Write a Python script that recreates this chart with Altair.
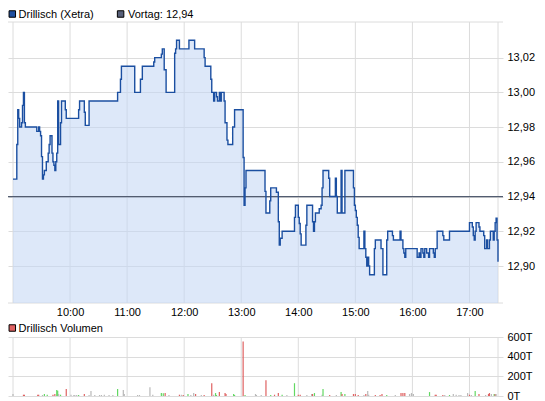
import altair as alt
import pandas as pd

# ---------------- data ----------------
session_day = "2011-01-03"
session_open = "09:00"
session_close = "17:30"

# Xetra price ticks: minutes after the 09:00 open, and price in EUR (step series)
price_minutes = [
    0, 4, 5, 6, 7, 9, 10, 11, 12, 13,
    25, 27, 28, 29, 30, 31, 32, 33, 35, 37,
    38, 39, 41, 42, 43, 44, 45, 46, 47, 48,
    50, 51, 55, 56, 69, 70, 75, 76, 80, 110,
    113, 114, 128, 134, 136, 148, 149, 156, 157, 159,
    161, 170, 171, 172, 175, 185, 191, 201, 202, 208,
    209, 211, 212, 214, 215, 217, 218, 219, 222, 223,
    225, 226, 231, 233, 242, 243, 244, 245, 265, 266,
    270, 271, 277, 279, 280, 281, 283, 296, 297, 300,
    301, 302, 303, 308, 309, 315, 316, 317, 318, 322,
    324, 325, 326, 332, 333, 339, 340, 341, 345, 346,
    349, 358, 359, 360, 361, 362, 363, 364, 369, 370,
    371, 372, 373, 374, 375, 380, 381, 387, 389, 393,
    394, 399, 400, 407, 408, 410, 411, 412, 413, 425,
    427, 428, 429, 431, 432, 433, 435, 437, 438, 442,
    443, 444, 446, 452, 453, 459, 480, 483, 484, 485,
    486, 487, 490, 491, 495, 496, 498, 499, 501, 502,
    505, 506, 507, 508, 509, 510,
]
price_values = [
    12.95, 12.97, 12.99, 12.985, 12.98, 12.9825, 12.9925, 13.00, 12.9825, 12.98,
    12.9775, 12.98, 12.9775, 12.975, 12.963, 12.95, 12.9525, 12.955, 12.96, 12.965,
    12.97, 12.975, 12.965, 12.96, 12.958, 12.955, 12.96, 12.965, 12.995, 12.97,
    12.9825, 12.995, 12.99, 12.985, 12.99, 12.995, 12.9885, 12.981, 12.995, 13.00,
    13.0075, 13.015, 13.00, 13.0075, 13.015, 13.0175, 13.02, 13.022, 13.025, 13.013,
    13.00, 13.0225, 13.025, 13.03, 13.025, 13.03, 13.025, 13.02, 13.015, 13.0075,
    13.00, 12.995, 13.00, 12.9975, 12.995, 13.00, 12.995, 13.00, 12.995, 12.9825,
    12.9725, 12.97, 12.98, 12.99, 12.9625, 12.935, 12.945, 12.955, 12.943, 12.9305,
    12.9375, 12.945, 12.9425, 12.9255, 12.912, 12.916, 12.92, 12.928, 12.935, 12.928,
    12.9245, 12.9185, 12.912, 12.9235, 12.935, 12.9255, 12.92, 12.9255, 12.9305, 12.933,
    12.935, 12.945, 12.955, 12.9505, 12.94, 12.9505, 12.94, 12.9305, 12.955, 12.9305,
    12.955, 12.945, 12.935, 12.932, 12.928, 12.9235, 12.9165, 12.91, 12.92, 12.91,
    12.905, 12.90, 12.905, 12.90, 12.895, 12.91, 12.915, 12.91, 12.895, 12.915,
    12.92, 12.9175, 12.915, 12.92, 12.915, 12.91, 12.9075, 12.905, 12.91, 12.905,
    12.9075, 12.905, 12.91, 12.9075, 12.905, 12.91, 12.9075, 12.905, 12.91, 12.9075,
    12.905, 12.91, 12.92, 12.9175, 12.915, 12.92, 12.925, 12.9225, 12.9175, 12.915,
    12.92, 12.925, 12.9225, 12.92, 12.9175, 12.91, 12.915, 12.91, 12.915, 12.92,
    12.915, 12.92, 12.925, 12.9275, 12.915, 12.9025,
]

# traded volume per minute (thousands of shares) and tick direction
volume_minutes = [
    0, 11, 12, 26, 27, 31, 33, 36, 42, 44,
    46, 47, 48, 50, 56, 61, 64, 65, 67, 69,
    75, 80, 82, 86, 91, 93, 96, 101, 105, 110,
    116, 117, 131, 133, 144, 147, 156, 158, 160, 164,
    175, 177, 179, 184, 187, 190, 192, 198, 201, 209,
    211, 213, 214, 217, 223, 224, 232, 233, 242, 244,
    255, 256, 261, 266, 271, 275, 279, 283, 288, 296,
    300, 302, 309, 314, 315, 317, 325, 326, 333, 340,
    345, 346, 349, 358, 360, 363, 369, 371, 373, 374,
    381, 386, 388, 393, 402, 408, 410, 412, 417, 419,
    421, 438, 444, 445, 452, 454, 459, 463, 466, 469,
    471, 478, 480, 482, 486, 490, 497, 500, 501, 503,
    506, 507, 508,
]
volume_thousands = [
    20, 13, 13, 13, 13, 10, 20, 13, 13, 20,
    60, 53, 20, 13, 70, 13, 10, 10, 10, 10,
    20, 10, 50, 10, 10, 10, 13, 10, 10, 70,
    60, 20, 10, 10, 90, 13, 30, 27, 30, 10,
    13, 13, 10, 20, 10, 30, 20, 10, 10, 130,
    13, 30, 10, 40, 30, 20, 20, 10, 553, 10,
    20, 10, 10, 160, 10, 13, 30, 13, 10, 130,
    13, 13, 10, 20, 20, 30, 13, 70, 10, 10,
    40, 20, 20, 20, 20, 10, 10, 20, 50, 13,
    10, 10, 20, 10, 10, 30, 30, 30, 20, 30,
    20, 40, 13, 13, 10, 10, 10, 20, 13, 10,
    10, 30, 13, 10, 50, 20, 10, 20, 30, 20,
    20, 20, 20,
]
volume_direction = [
    "flat", "down", "down", "down", "down", "flat", "up", "up", "down", "down",
    "up", "up", "flat", "up", "down", "flat", "flat", "flat", "flat", "up",
    "down", "flat", "flat", "flat", "flat", "flat", "flat", "flat", "flat", "up",
    "flat", "flat", "flat", "flat", "flat", "flat", "up", "up", "down", "flat",
    "down", "flat", "down", "up", "flat", "flat", "down", "flat", "down", "down",
    "flat", "up", "up", "down", "down", "down", "up", "up", "down", "up",
    "flat", "flat", "flat", "down", "up", "down", "down", "up", "flat", "up",
    "down", "down", "flat", "flat", "down", "up", "flat", "up", "down", "flat",
    "up", "down", "up", "down", "down", "down", "flat", "down", "flat", "flat",
    "down", "down", "down", "up", "flat", "down", "down", "down", "flat", "flat",
    "flat", "up", "down", "down", "down", "flat", "up", "flat", "flat", "flat",
    "flat", "flat", "down", "flat", "up", "down", "flat", "down", "down", "flat",
    "up", "down", "flat",
]

hour_labels = ["10:00", "11:00", "12:00", "13:00", "14:00", "15:00", "16:00", "17:00"]
price_tick_values = [12.90, 12.92, 12.94, 12.96, 12.98, 13.00, 13.02]
volume_tick_values = [0, 200, 400, 600]
previous_close = 12.94
price_domain = [12.8787, 13.0405]
volume_domain = [0, 600]

legend_price = "Drillisch (Xetra)"
legend_prev = "Vortag: 12,94"
legend_volume = "Drillisch Volumen"

# ---------------- styling / layout ----------------
FONT = "Liberation Sans"
GRID = "#dcdcdc"
FILL = "#c4d7f5"
LINE = "#1b4fa1"
PREV = "#525c70"
SQ_BLUE = "#1f4f9f"
SQ_PREV = "#575f78"
RED = "#df6161"
GREEN = "#62d862"
GRAY = "#b8b8b8"

W = 495
PRICE_H = 281
VOL_TOP = 315
VOL_BOTTOM = 374
H = VOL_BOTTOM

open_ts = pd.Timestamp(f"{session_day} {session_open}")


def dt(hhmm):
    h, m = (int(p) for p in hhmm.split(":"))
    return alt.DateTime(year=2011, month=1, date=3, hours=h, minutes=m)


price_df = pd.DataFrame({
    "t": [open_ts + pd.Timedelta(minutes=m) for m in price_minutes],
    "price": price_values,
})
volume_df = pd.DataFrame({
    "t": [open_ts + pd.Timedelta(minutes=m) for m in volume_minutes],
    "volume": volume_thousands,
    "direction": volume_direction,
})
vgrid_df = pd.DataFrame({
    "t": [pd.Timestamp(f"{session_day} {h}") for h in [session_open] + hour_labels + [session_close]]
})

x_scale = alt.Scale(domain=[dt(session_open), dt(session_close)])
x_axis = alt.Axis(
    values=[dt(h) for h in hour_labels], format="%H:%M", orient="bottom",
    offset=PRICE_H - H, grid=False, domain=False, ticks=False, labelPadding=3,
    labelFontSize=11, labelFont=FONT, labelColor="#000", labelFlush=False,
    labelOverlap=False, title=None,
)
x_enc = alt.X("t:T", scale=x_scale, axis=x_axis, title=None)

price_scale = alt.Scale(domain=price_domain, range=[PRICE_H, 0], zero=False, nice=False)
price_axis = alt.Axis(
    orient="right", values=price_tick_values,
    labelExpr="replace(format(datum.value, '.2f'), '.', ',')",
    grid=True, gridColor=GRID, gridWidth=1, domain=False, ticks=False,
    labelPadding=4, labelFontSize=11, labelFont=FONT, labelColor="#000",
    labelFlush=False, labelOverlap=False, title=None,
)
vol_scale = alt.Scale(domain=volume_domain, range=[VOL_BOTTOM, VOL_TOP], nice=False)
vol_axis = alt.Axis(
    orient="right", values=volume_tick_values, labelExpr="datum.value + 'T'",
    grid=True, gridColor=GRID, gridWidth=1, domain=False, ticks=False,
    labelPadding=4, labelFontSize=11, labelFont=FONT, labelColor="#000",
    labelFlush=False, labelOverlap=False, title=None,
)

# ---------------- price panel ----------------
vgrid_price = alt.Chart(vgrid_df).mark_rule(color=GRID, strokeWidth=1).encode(
    x=x_enc,
    y=alt.YDatum(price_domain[1], type="quantitative", scale=price_scale, axis=price_axis),
    y2=alt.datum(price_domain[0]),
)
hborder_price = alt.Chart(pd.DataFrame({"edge": price_domain})).mark_rule(
    color=GRID, strokeWidth=1
).encode(y=alt.Y("edge:Q", scale=price_scale, axis=price_axis, title=None))

area = alt.Chart(price_df).mark_area(
    interpolate="step-after", fill=FILL, fillOpacity=0.58, strokeWidth=0
).encode(
    x=x_enc,
    y=alt.Y("price:Q", scale=price_scale, axis=price_axis, title=None),
    y2=alt.datum(price_domain[0]),
)
prev_rule = alt.Chart(pd.DataFrame({"prev": [previous_close]})).mark_rule(
    color=PREV, strokeWidth=1.2
).encode(y=alt.Y("prev:Q", scale=price_scale, axis=price_axis, title=None))

line = alt.Chart(price_df).mark_line(
    interpolate="step-after", color=LINE, strokeWidth=1.4
).encode(
    x=x_enc,
    y=alt.Y("price:Q", scale=price_scale, axis=price_axis, title=None),
)

def legend_square(color, x, y):
    return alt.Chart(pd.DataFrame({"k": [0]})).mark_square(
        x=x, y=y, size=42, filled=True, stroke="#000", strokeWidth=1, opacity=1
    ).encode(fill=alt.value(color))


def legend_text(label, x, y):
    return alt.Chart(pd.DataFrame({"label": [label]})).mark_text(
        x=x, y=y, align="left", baseline="alphabetic", fontSize=11, font=FONT, color="#000"
    ).encode(text="label:N")


price_layer = alt.layer(
    vgrid_price, hborder_price, area, prev_rule, line,
    legend_square(SQ_BLUE, 4.3, -8), legend_text(legend_price, 10.6, -4),
    legend_square(SQ_PREV, 112.6, -8), legend_text(legend_prev, 120, -4),
)

# ---------------- volume panel ----------------
vgrid_vol = alt.Chart(vgrid_df).mark_rule(color=GRID, strokeWidth=1).encode(
    x=x_enc,
    y=alt.YDatum(volume_domain[1], type="quantitative", scale=vol_scale, axis=vol_axis),
    y2=alt.datum(volume_domain[0]),
)
bars = alt.Chart(volume_df).mark_bar(size=1.2).encode(
    x=x_enc,
    y=alt.Y("volume:Q", scale=vol_scale, axis=vol_axis, title=None),
    color=alt.Color(
        "direction:N",
        scale=alt.Scale(domain=["up", "down", "flat"], range=[GREEN, RED, GRAY]),
        legend=None,
    ),
)
vol_layer = alt.layer(
    vgrid_vol, bars,
    legend_square(RED, 4.3, VOL_TOP - 9), legend_text(legend_volume, 10.6, VOL_TOP - 5),
)

chart = alt.layer(price_layer, vol_layer).resolve_scale(
    y="independent"
).resolve_axis(
    y="independent"
).properties(
    width=W, height=H,
    padding={"left": 0, "top": 14, "right": 34, "bottom": 5},
    autosize=alt.AutoSizeParams(type="none"),
    background="white",
).configure_view(stroke=None)

chart.save("out.html", embed_options={"renderer": "svg", "actions": False})
